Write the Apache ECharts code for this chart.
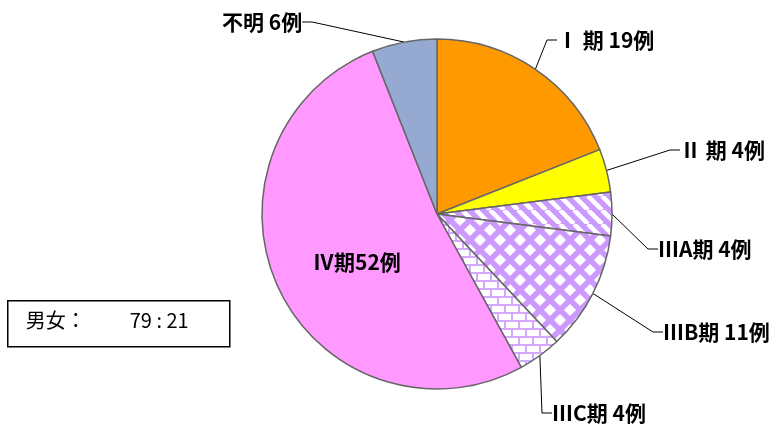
<!DOCTYPE html>
<html>
<head>
<meta charset="utf-8">
<script src="https://cdn.jsdelivr.net/npm/echarts@6/dist/echarts.min.js"></script>
<style>
  html, body { margin: 0; padding: 0; background: #fff; }
  #chart { width: 784px; height: 430px; }
</style>
</head>
<body>
<div id="chart"></div>
<script>
// 病期別の症例数
const stages = ["Ⅰ 期", "Ⅱ 期", "ⅢA期", "ⅢB期", "ⅢC期", "Ⅳ期", "不明"];
const cases = [19, 4, 4, 11, 4, 52, 6];
const sexRatio = "79 : 21";

const purple = "#CC99FF";

// 模様用のキャンバスを作る
function makeTile(w, h, draw) {
  const c = document.createElement("canvas");
  c.width = w; c.height = h;
  draw(c.getContext("2d"));
  return { image: c, repeat: "repeat" };
}

// 斜線
const stripe = makeTile(14, 14, ctx => {
  ctx.fillStyle = purple;
  ctx.fillRect(0, 0, 14, 14);
  ctx.strokeStyle = "#fff";
  ctx.lineWidth = 4.5;
  for (let k = -14; k <= 28; k += 14) {
    ctx.beginPath();
    ctx.moveTo(k, 0);
    ctx.lineTo(k + 14, 14);
    ctx.stroke();
  }
});

// ダイヤ
const diamond = makeTile(20, 20, ctx => {
  ctx.fillStyle = purple;
  ctx.fillRect(0, 0, 20, 20);
  ctx.fillStyle = "#fff";
  const d = (cx, cy) => {
    ctx.beginPath();
    ctx.moveTo(cx, cy - 6);
    ctx.lineTo(cx + 6, cy);
    ctx.lineTo(cx, cy + 6);
    ctx.lineTo(cx - 6, cy);
    ctx.closePath();
    ctx.fill();
  };
  [[0, 0], [20, 0], [0, 20], [20, 20], [10, 10]].forEach(p => d(p[0], p[1]));
});

// レンガ
const brick = makeTile(14, 16, ctx => {
  ctx.fillStyle = "#fff";
  ctx.fillRect(0, 0, 14, 16);
  ctx.strokeStyle = "#D4A8FF";
  ctx.lineWidth = 2;
  ctx.beginPath();
  ctx.moveTo(0, 1); ctx.lineTo(14, 1);
  ctx.moveTo(0, 9); ctx.lineTo(14, 9);
  ctx.moveTo(1, 1); ctx.lineTo(1, 9);
  ctx.moveTo(8, 9); ctx.lineTo(8, 16);
  ctx.stroke();
});

const fills = ["#FF9900", "#FFFF00", stripe, diamond, brick, "#FF99FF", "#95A9D1"];

// ラベルの位置（文字の左端・縦中央）
const labelPos = [
  [557, 40], [680, 150], [658, 249], [663, 332], [552, 413], [313, 262], [222, 22]
];

const chart = echarts.init(document.getElementById("chart"));
chart.setOption({
  animation: false,
  series: [{
    type: "pie",
    center: [437, 214],
    radius: 175,
    startAngle: 90,
    clockwise: true,
    avoidLabelOverlap: false,
    itemStyle: { borderColor: "#666", borderWidth: 1.5 },
    label: {
      fontFamily: "Noto Sans CJK JP",
      fontWeight: "bold",
      fontSize: 21,
      color: "#000",
      formatter: p => p.name + " " + p.value + "例"
    },
    labelLine: { show: true, lineStyle: { color: "#000", width: 1 }, length: 15, length2: 10 },
    labelLayout: p => {
      const pos = labelPos[p.dataIndex];
      return { x: pos[0], y: pos[1], align: "left", verticalAlign: "middle" };
    },
    data: stages.map((s, i) => {
      const item = { name: s, value: cases[i], itemStyle: { color: fills[i] } };
      if (i === 5) {
        item.label = { position: "inside", formatter: p => p.name + p.value + "例" };
        item.labelLine = { show: false };
      }
      return item;
    })
  }],
  graphic: [{
    type: "group",
    left: 7, top: 300,
    children: [{
      type: "rect",
      shape: { x: 0, y: 0, width: 222, height: 46 },
      style: { fill: "#fff", stroke: "#000", lineWidth: 1.5 }
    }, {
      type: "text",
      x: 18, y: 10,
      style: { text: "男女：", font: "20px 'Noto Sans CJK JP'", fill: "#000" }
    }, {
      type: "text",
      x: 122, y: 10,
      style: { text: sexRatio, font: "20px 'Noto Sans CJK JP'", fill: "#000" }
    }]
  }]
});
</script>
</body>
</html>
